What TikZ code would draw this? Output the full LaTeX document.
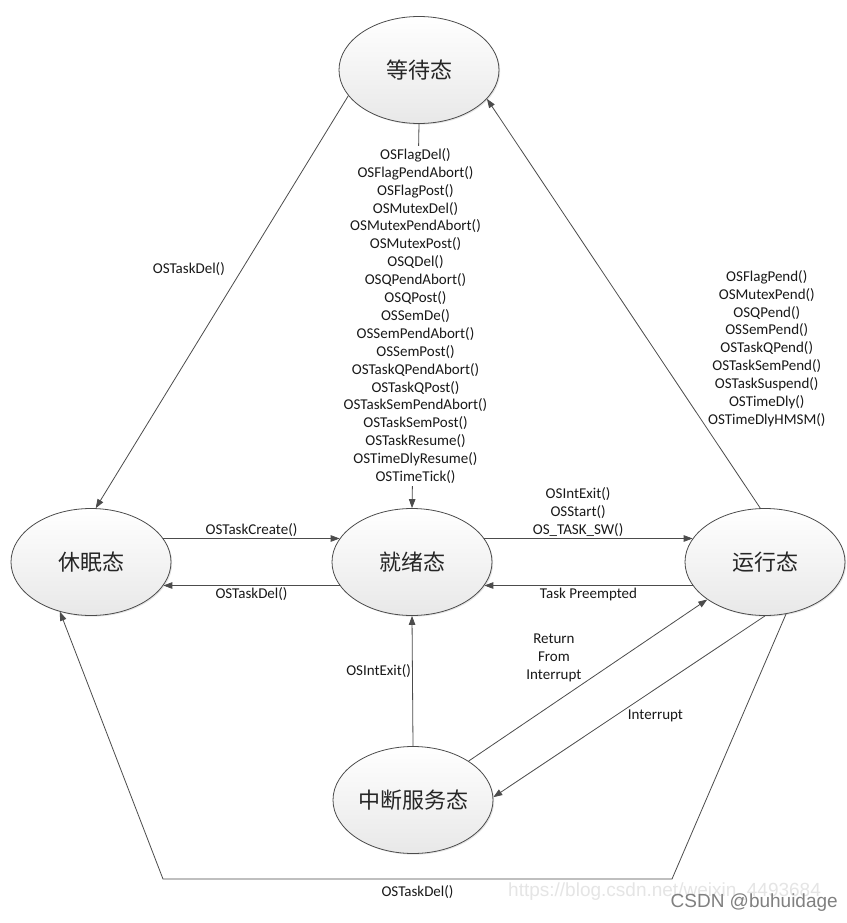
\documentclass[tikz,border=0pt]{standalone}
\usepackage{fontspec}
\setmainfont{Carlito}
\newfontfamily\cjk{Noto Sans CJK SC}
\newfontfamily\wmfont{Liberation Sans}
\usepackage{tikz}
\usetikzlibrary{shapes.geometric}
\usetikzlibrary{arrows.meta,shadows}
\tikzset{
statenodev1/.style={ellipse, draw=black!70, top color=white, bottom color=black!9, line width=0.8pt, inner sep=0pt, minimum width=160pt, minimum height=107pt, font=\cjk\fontsize{22}{26}\selectfont, text=black!85, drop shadow={opacity=0.2, shadow xshift=1.2pt, shadow yshift=-1.2pt}},
labelnodev1/.style={font=\fontsize{15}{17.9}\selectfont, text=black!90, inner sep=2pt, align=center},
arrowv1/.style={draw=black!70, line width=0.8pt, -{Triangle[length=9pt,width=6.5pt]}},
watermarkv1/.style={font=\wmfont\fontsize{19}{22}\selectfont, inner sep=0pt},
}
\begin{document}
\begin{tikzpicture}[x=1pt, y=-1pt]
    \path[use as bounding box, fill=white] (0,0) rectangle (846,923);
    \node[statenodev1] at (419,70) (wait) {等待态};
    \node[statenodev1] at (91,562) (dormant) {休眠态};
    \node[statenodev1] at (412,562) (ready) {就绪态};
    \node[statenodev1] at (765,562) (run) {运行态};
    \node[statenodev1] at (413,800) (isr) {中断服务态};
    \coordinate (bottomright) at (672,879);
    \coordinate (bottomleft) at (163,879);
    \draw[arrowv1] (wait.200) to node[labelnodev1, pos=0.42, left=15pt]{OSTaskDel()}(dormant.85);
    \draw[arrowv1] (wait.south) to node[labelnodev1, fill=white, midway]{OSFlagDel()\\OSFlagPendAbort()\\OSFlagPost()\\OSMutexDel()\\OSMutexPendAbort()\\OSMutexPost()\\OSQDel()\\OSQPendAbort()\\OSQPost()\\OSSemDe()\\OSSemPendAbort()\\OSSemPost()\\OSTaskQPendAbort()\\OSTaskQPost()\\OSTaskSemPendAbort()\\OSTaskSemPost()\\OSTaskResume()\\OSTimeDlyResume()\\OSTimeTick()}(ready.north);
    \draw[arrowv1] (run.95) to node[labelnodev1, pos=0.39, right=52pt]{OSFlagPend()\\OSMutexPend()\\OSQPend()\\OSSemPend()\\OSTaskQPend()\\OSTaskSemPend()\\OSTaskSuspend()\\OSTimeDly()\\OSTimeDlyHMSM()}(wait.337);
    \draw[arrowv1] (dormant.18) to node[labelnodev1, above]{OSTaskCreate()}(ready.162);
    \draw[arrowv1] (ready.198) to node[labelnodev1, below]{OSTaskDel()}(dormant.342);
    \draw[arrowv1] (ready.18) to node[labelnodev1, above, pos=0.45]{OSIntExit()\\OSStart()\\OS\_TASK\_SW()}(run.162);
    \draw[arrowv1] (run.198) to node[labelnodev1, below]{Task Preempted}(ready.342);
    \draw[arrowv1] (isr.north) to node[labelnodev1, pos=0.58, left, inner sep=1pt]{OSIntExit()}(ready.south);
    \draw[arrowv1] (isr.35) to node[labelnodev1, pos=0.5, xshift=-34pt, yshift=22pt]{Return\\From\\Interrupt}(run.213);
    \draw[arrowv1] (run.270) to node[labelnodev1, pos=0.55, right=10pt]{Interrupt}(isr.2);
    \draw[arrowv1] (run.292) -- (bottomright) -- node[labelnodev1, below=4pt]{OSTaskDel()}(bottomleft) -- (dormant.238);
    % watermarks
    \node[watermarkv1, anchor=west, text=black!10] at (508,892) (watermarkurl) {https://blog.csdn.net/weixin\_4493684};
    \node[watermarkv1, anchor=east, text=black!50] at (838,903) (watermarkcsdn) {CSDN @buhuidage};
\end{tikzpicture}
\end{document}
